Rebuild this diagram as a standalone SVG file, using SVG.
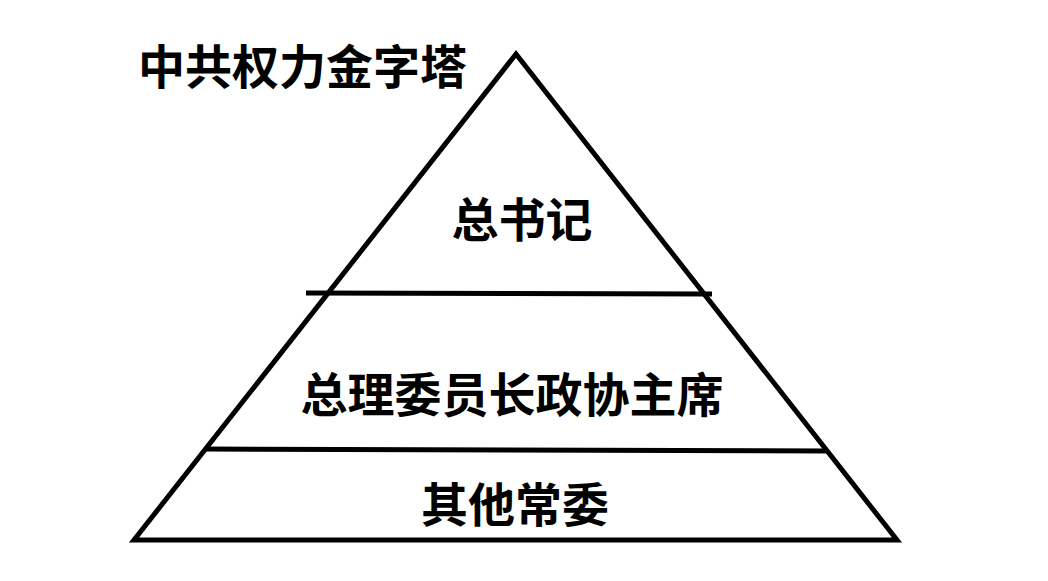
<svg xmlns="http://www.w3.org/2000/svg" width="1048" height="581" viewBox="0 0 1048 581">
<style>
.l{stroke:#000;stroke-width:5;fill:none;stroke-linejoin:miter}
.t{font-family:"Noto Sans CJK SC","Noto Sans CJK JP",sans-serif;font-weight:bold;font-size:47px;fill:#000}
</style>
<rect width="1048" height="581" fill="#fff"/>
<g id="connectors">
<polygon class="l" points="516,54 134,540 897,540"/>
<line class="l" x1="306" y1="293" x2="712" y2="294"/>
<line class="l" x1="205" y1="449" x2="828" y2="451"/>
</g>
<g id="title"><text class="t" x="138" y="84">中共权力金字塔</text></g>
<g id="top"><text class="t" x="522" y="237" text-anchor="middle">总书记</text></g>
<g id="middle"><text class="t" x="512" y="412" text-anchor="middle">总理委员长政协主席</text></g>
<g id="bottom"><text class="t" x="515" y="522" text-anchor="middle">其他常委</text></g>
</svg>
